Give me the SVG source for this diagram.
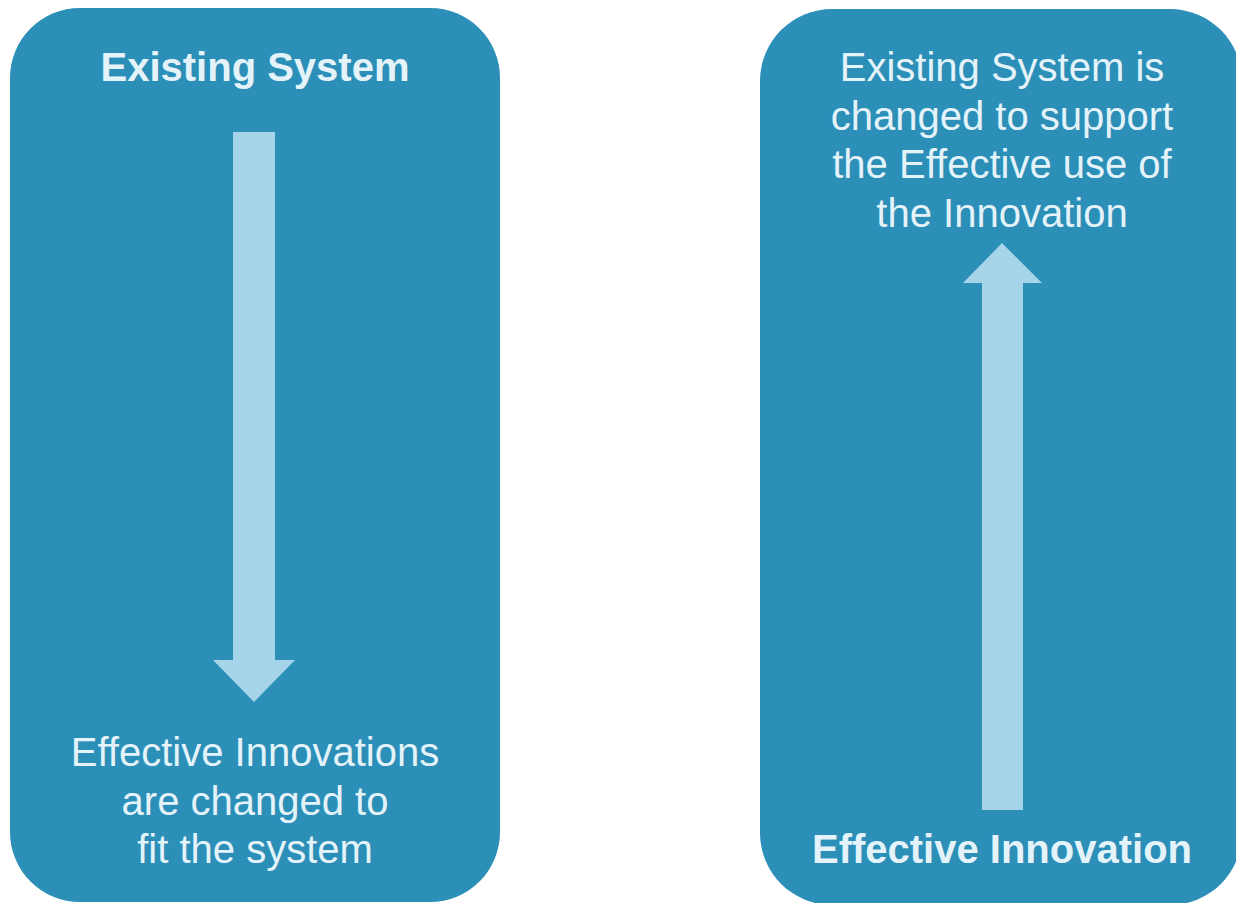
<svg xmlns="http://www.w3.org/2000/svg" width="1236" height="903" viewBox="0 0 1236 903">
<style>
.box{fill:#2b8fb8}
.arr{fill:#a6d5ea}
.t{font-family:"Liberation Sans",Arial,sans-serif;font-size:40px;fill:#e4f3f9;text-anchor:middle}
.b{font-weight:bold}
</style>
<rect width="1236" height="903" fill="#ffffff"/>
<g id="left-node">
<rect class="box" x="10" y="8" width="490" height="894" rx="70" ry="70"/>
<text class="t b" x="255" y="81">Existing System</text>
<text class="t" x="255" y="766">Effective Innovations</text>
<text class="t" x="255" y="815">are changed to</text>
<text class="t" x="255" y="863">fit the system</text>
</g>
<g id="right-node">
<rect class="box" x="760" y="9" width="482" height="896" rx="72" ry="72"/>
<text class="t" x="1002" y="81">Existing System is</text>
<text class="t" x="1002" y="130">changed to support</text>
<text class="t" x="1002" y="178">the Effective use of</text>
<text class="t" x="1002" y="227">the Innovation</text>
<text class="t b" x="1002" y="863">Effective Innovation</text>
</g>
<g id="connectors">
<polygon class="arr" points="233,132 275,132 275,660 295,660 254,702 213,660 233,660"/>
<polygon class="arr" points="982,810 1023,810 1023,283 1042,283 1002,243 963,283 982,283"/>
</g>
</svg>
